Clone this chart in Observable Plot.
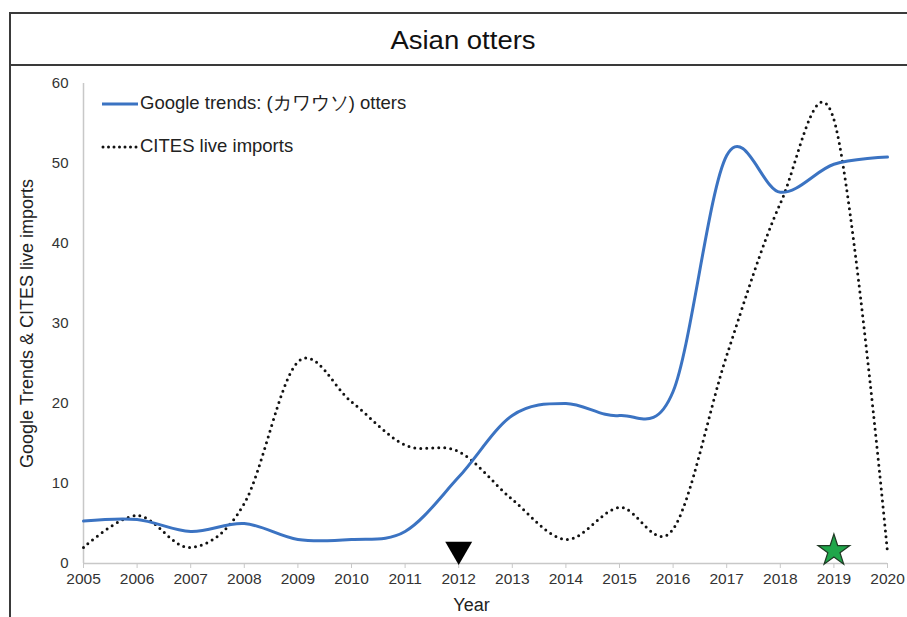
<!DOCTYPE html>
<html>
<head>
<meta charset="utf-8">
<script src="https://cdn.jsdelivr.net/npm/d3@7"></script>
<script src="https://cdn.jsdelivr.net/npm/@observablehq/plot@0.6"></script>
<style>
  body { margin: 0; width: 907px; height: 617px; overflow: hidden; background: #fff; font-family: "Liberation Sans", Arial, sans-serif; }
  #frame { position: absolute; left: 9px; top: 12px; width: 1000px; height: 700px; border: 2px solid #3a3a3a; box-sizing: border-box; }
  #titleline { position: absolute; left: 9px; top: 64px; width: 1000px; height: 0; border-top: 2px solid #3a3a3a; }
  #title { position: absolute; left: 9px; top: 14px; width: 908px; height: 50px; line-height: 52px; text-align: center; font-size: 25px; color: #111; }
  #title span { display: inline-block; transform: scaleX(1.1); }
  #chart { position: absolute; left: 0; top: 66px; }
  #legend { position: absolute; left: 101px; top: 91px; font-size: 18.5px; color: #222; }
  #legend div { height: 24px; line-height: 24px; margin-bottom: 19px; white-space: nowrap; }
  #legend svg { vertical-align: middle; margin-right: 1px; }
</style>
</head>
<body>
<div id="frame"></div>
<div id="titleline"></div>
<div id="title"><span>Asian otters</span></div>
<div id="chart"></div>
<div id="legend"></div>
<script>
const years = [2005,2006,2007,2008,2009,2010,2011,2012,2013,2014,2015,2016,2017,2018,2019,2020];
const googleTrends = [5.3,5.5,4,5,3,3,4,10.8,18.5,20,18.5,21.5,51,46.4,49.9,50.8];
const citesImports = [2,6,2,7.5,25.2,20.2,14.8,14,8,3,7,4.3,26,45,55.5,1.4];
const seriesNames = ["Google trends: (カワウソ) otters", "CITES live imports"];
const markerYears = [2012, 2019];
const markerValues = [1.75, 1.6];
const markerKinds = ["triangle", "star"];
const yTicks = [0,10,20,30,40,50,60];

const blue = "#3b73c2";
const google = years.map((y, i) => ({year: y, value: googleTrends[i]}));
const cites = years.map((y, i) => ({year: y, value: citesImports[i]}));
const markers = markerYears.map((y, i) => ({year: y, value: markerValues[i], kind: markerKinds[i]}));

const chart = Plot.plot({
  width: 907,
  height: 551,
  marginLeft: 83,
  marginRight: 20,
  marginTop: 17,
  marginBottom: 54,
  style: {fontFamily: "Liberation Sans, Arial, sans-serif", fontSize: "15px", color: "#333", background: "transparent"},
  x: {domain: [2005, 2020]},
  y: {domain: [0, 60]},
  marks: [
    Plot.ruleY([0], {stroke: "#c8c8c8", strokeWidth: 1.5}),
    Plot.ruleX([2005], {stroke: "#c8c8c8", strokeWidth: 1.5}),
    Plot.axisX({ticks: years, tickFormat: d => String(d), tickSize: 5, tickPadding: 4, stroke: "#c8c8c8", fontSize: 15.5, label: null}),
    Plot.axisY({ticks: yTicks, tickSize: 0, tickPadding: 15, fontSize: 15, label: null}),
    Plot.axisY({ticks: [], label: "Google Trends & CITES live imports", labelArrow: "none", labelAnchor: "center", labelOffset: 63, fontSize: 18, color: "#222"}),
    Plot.text(["Year"], {frameAnchor: "bottom", dy: 47, dx: -14, fontSize: 18, fill: "#222"}),
    Plot.line(cites, {x: "year", y: "value", curve: "cardinal", stroke: "#111", strokeWidth: 3, strokeDasharray: "0 6", strokeLinecap: "round"}),
    Plot.line(google, {x: "year", y: "value", curve: "cardinal", stroke: blue, strokeWidth: 3}),
    Plot.dot(markers.filter(d => d.kind === "triangle"), {x: "year", y: "value", symbol: "triangle", rotate: 180, r: 10, fill: "#000"}),
    Plot.dot(markers.filter(d => d.kind === "star"), {x: "year", y: "value", symbol: "star", r: 10, fill: "#1fa64a", stroke: "#1f3a25", strokeWidth: 1.2})
  ]
});
document.getElementById("chart").appendChild(chart);

const legend = document.getElementById("legend");
const styles = [
  `<line x1="1" y1="6" x2="37" y2="6" stroke="${blue}" stroke-width="3"/>`,
  `<line x1="2" y1="6" x2="36" y2="6" stroke="#111" stroke-width="3" stroke-dasharray="0 5.5" stroke-linecap="round"/>`
];
seriesNames.forEach((name, i) => {
  const row = document.createElement("div");
  row.innerHTML = `<svg width="38" height="12">${styles[i]}</svg>` + name;
  legend.appendChild(row);
});
</script>
</body>
</html>
